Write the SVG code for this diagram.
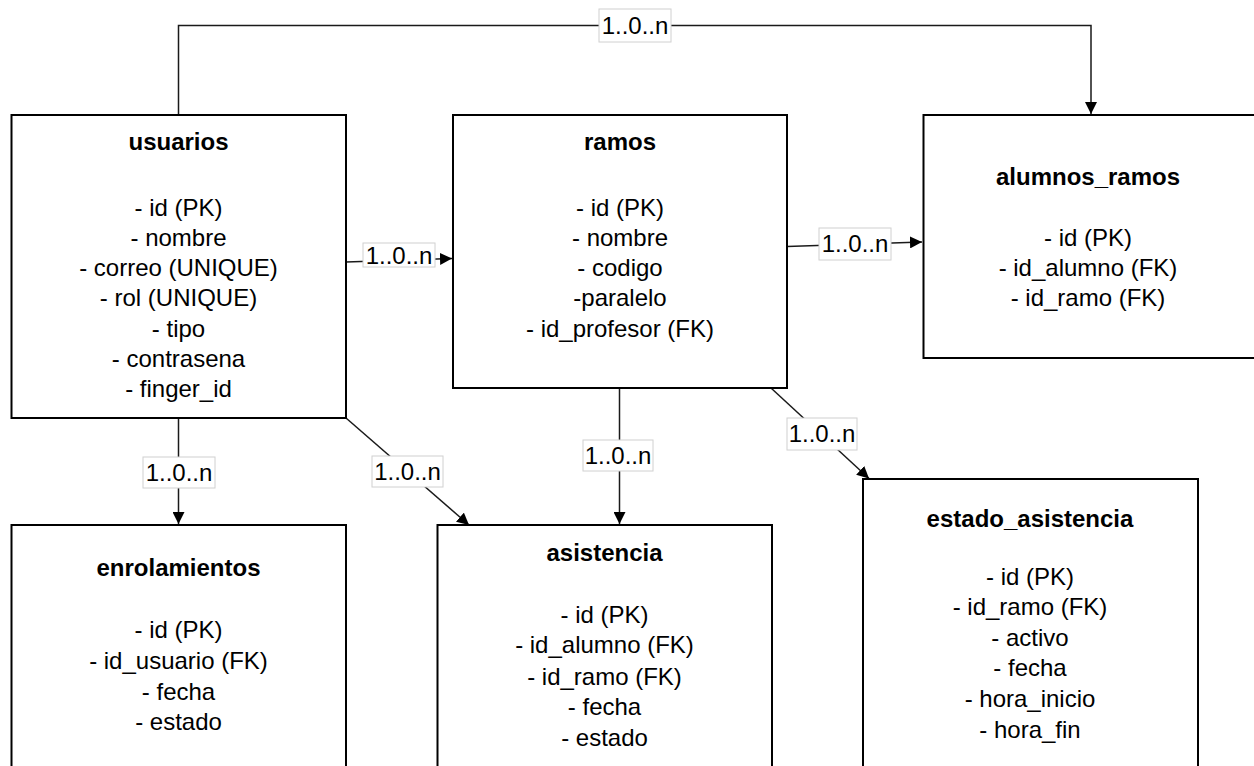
<svg xmlns="http://www.w3.org/2000/svg" width="1254" height="766" viewBox="0 0 1254 766">
  <style>
    .box { fill: #ffffff; stroke: #000000; stroke-width: 2; }
    .t { font-family: "Liberation Sans", Arial, sans-serif; font-size: 24px; fill: #000000; text-anchor: middle; }
    .title { font-weight: bold; }
    .edge { fill: none; stroke: #1a1a1a; stroke-width: 1.5; }
    .lbl { fill: #ffffff; stroke: #d0d0d0; stroke-width: 1; }
  </style>
  <defs>
    <marker id="arrow" viewBox="0 0 12 12" refX="12" refY="6" markerWidth="12" markerHeight="12" markerUnits="userSpaceOnUse" orient="auto">
      <path d="M0,0 L12,6 L0,12 Z" fill="#000000"/>
    </marker>
  </defs>

  <rect width="1254" height="766" fill="#ffffff"/>

  <!-- relationship connectors -->
  <g id="connectors">
    <path class="edge" d="M178.5,115 V25.5 H1091 V114" marker-end="url(#arrow)"/>
    <path class="edge" d="M346,262 L452,258.5" marker-end="url(#arrow)"/>
    <path class="edge" d="M787,246.5 L922,242" marker-end="url(#arrow)"/>
    <path class="edge" d="M178.5,418 V524" marker-end="url(#arrow)"/>
    <path class="edge" d="M346,418 L469,525" marker-end="url(#arrow)"/>
    <path class="edge" d="M619.5,388 V524" marker-end="url(#arrow)"/>
    <path class="edge" d="M771,388 L869,478.5" marker-end="url(#arrow)"/>

    <rect class="lbl" x="599" y="9" width="72" height="33"/>
    <text class="t" x="635" y="34">1..0..n</text>
    <rect class="lbl" x="363" y="243" width="72" height="24"/>
    <text class="t" x="399" y="264">1..0..n</text>
    <rect class="lbl" x="819" y="228" width="72" height="32"/>
    <text class="t" x="855" y="252">1..0..n</text>
    <rect class="lbl" x="143" y="457" width="72" height="31"/>
    <text class="t" x="179" y="481">1..0..n</text>
    <rect class="lbl" x="372" y="456" width="71" height="31"/>
    <text class="t" x="407.5" y="480">1..0..n</text>
    <rect class="lbl" x="583" y="440" width="70" height="31"/>
    <text class="t" x="618" y="464">1..0..n</text>
    <rect class="lbl" x="787" y="418" width="70" height="32"/>
    <text class="t" x="822" y="442">1..0..n</text>
  </g>

  <g id="usuarios">
    <rect class="box" x="11.5" y="115" width="334.5" height="303"/>
    <text class="t title" x="178.5" y="150">usuarios</text>
    <text class="t" x="178.5" y="216">- id (PK)</text>
    <text class="t" x="178.5" y="246">- nombre</text>
    <text class="t" x="178.5" y="276">- correo (UNIQUE)</text>
    <text class="t" x="178.5" y="306">- rol (UNIQUE)</text>
    <text class="t" x="178.5" y="337">- tipo</text>
    <text class="t" x="178.5" y="367">- contrasena</text>
    <text class="t" x="178.5" y="397">- finger_id</text>
  </g>

  <g id="ramos">
    <rect class="box" x="453" y="115" width="334" height="273"/>
    <text class="t title" x="620" y="150">ramos</text>
    <text class="t" x="620" y="216">- id (PK)</text>
    <text class="t" x="620" y="246">- nombre</text>
    <text class="t" x="620" y="276">- codigo</text>
    <text class="t" x="620" y="306">-paralelo</text>
    <text class="t" x="620" y="337">- id_profesor (FK)</text>
  </g>

  <g id="alumnos_ramos">
    <rect class="box" x="923.5" y="115" width="336" height="243"/>
    <text class="t title" x="1088" y="185">alumnos_ramos</text>
    <text class="t" x="1088" y="246">- id (PK)</text>
    <text class="t" x="1088" y="276">- id_alumno (FK)</text>
    <text class="t" x="1088" y="306">- id_ramo (FK)</text>
  </g>

  <g id="enrolamientos">
    <rect class="box" x="11.5" y="525" width="334.5" height="260"/>
    <text class="t title" x="178.5" y="576">enrolamientos</text>
    <text class="t" x="178.5" y="638">- id (PK)</text>
    <text class="t" x="178.5" y="669">- id_usuario (FK)</text>
    <text class="t" x="178.5" y="700">- fecha</text>
    <text class="t" x="178.5" y="730">- estado</text>
  </g>

  <g id="asistencia">
    <rect class="box" x="437.5" y="525" width="334.5" height="260"/>
    <text class="t title" x="604.5" y="561">asistencia</text>
    <text class="t" x="604.5" y="623">- id (PK)</text>
    <text class="t" x="604.5" y="653">- id_alumno (FK)</text>
    <text class="t" x="604.5" y="685">- id_ramo (FK)</text>
    <text class="t" x="604.5" y="715">- fecha</text>
    <text class="t" x="604.5" y="746">- estado</text>
  </g>

  <g id="estado_asistencia">
    <rect class="box" x="863" y="479" width="335" height="306"/>
    <text class="t title" x="1030" y="527">estado_asistencia</text>
    <text class="t" x="1030" y="585">- id (PK)</text>
    <text class="t" x="1030" y="615">- id_ramo (FK)</text>
    <text class="t" x="1030" y="646">- activo</text>
    <text class="t" x="1030" y="676">- fecha</text>
    <text class="t" x="1030" y="707">- hora_inicio</text>
    <text class="t" x="1030" y="738">- hora_fin</text>
  </g>
</svg>
